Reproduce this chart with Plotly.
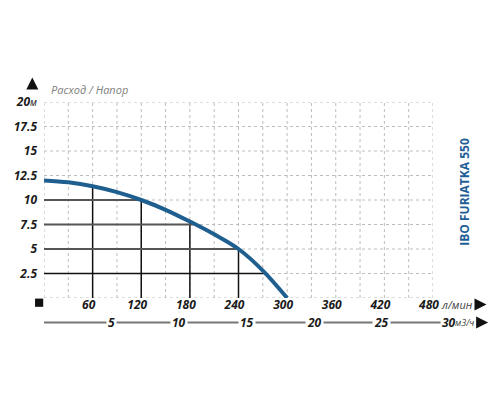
import plotly.graph_objects as go

# pump curve (flow in l/min, head in m)
flow = [0, 30, 60, 90, 120, 150, 180, 210, 240, 270, 300]
head = [12.0, 11.8, 11.4, 10.8, 10.0, 9.0, 7.8, 6.5, 5.0, 2.8, 0.0]

# reference lines drawn under the curve
v_flows = [60, 120, 180, 240]
v_heads = [11.4, 10.0, 7.8, 5.0]
h_heads = [10, 7.5, 5, 2.5]
h_flows = [120, 184, 240, 272]

x_ticks = [60, 120, 180, 240, 300, 360, 420, 480]
y_ticks = [2.5, 5, 7.5, 10, 12.5, 15, 17.5, 20]
y_labels = ["2.5", "5", "7.5", "10", "12.5", "15", "17.5", "20<span style='font-size:10px;font-weight:normal'>м</span>"]
m3h_ticks = [5, 10, 15, 20, 25, 30]

X_MAX = 480
BLUE = "#1f5f8f"
label_font = dict(family="Open Sans", size=12, color="#1a1a1a", weight="bold", style="italic")


def px(q):
    # flow in l/min -> paper x (works outside the axis range too)
    return q / X_MAX


fig = go.Figure()

shapes = []
# dotted grid
for i in range(17):
    shapes.append(dict(type="line", x0=i * 30, x1=i * 30, y0=0, y1=20, layer="below",
                       line=dict(color="#bdbdbd", width=1, dash="dot")))
for i in range(9):
    shapes.append(dict(type="line", x0=0, x1=480, y0=i * 2.5, y1=i * 2.5, layer="below",
                       line=dict(color="#bdbdbd", width=1, dash="dot")))
# solid lines to the curve
for q, h in zip(v_flows, v_heads):
    shapes.append(dict(type="line", x0=q, x1=q, y0=0, y1=h, layer="below",
                       line=dict(color="#111", width=1.5)))
for h, q in zip(h_heads, h_flows):
    shapes.append(dict(type="line", x0=0, x1=q, y0=h, y1=h, layer="below",
                       line=dict(color="#555" if h > 2.5 else "#111", width=2 if h > 2.5 else 1.5)))

# second axis in m3/h
sec_y = -0.125
shapes.append(dict(type="line", xref="paper", yref="paper", x0=0, x1=px(500), y0=sec_y, y1=sec_y,
                   line=dict(color="#777", width=2)))
for m in m3h_ticks:
    q = m * 1000 / 60
    shapes.append(dict(type="line", xref="paper", yref="paper", x0=px(q), x1=px(q), y0=sec_y + 0.035,
                       y1=sec_y + 0.05, line=dict(color="#444", width=1)))
# origin square
shapes.append(dict(type="rect", xref="paper", yref="paper", x0=-0.023, x1=-0.002, y0=-0.045, y1=-0.003,
                   fillcolor="#111", line=dict(width=0)))

fig.add_trace(go.Scatter(x=flow, y=head, mode="lines", line=dict(color=BLUE, width=4, shape="spline"),
                         hoverinfo="skip", showlegend=False))

annotations = []
for m in m3h_ticks:
    annotations.append(dict(x=px(m * 1000 / 60), y=sec_y, xref="paper", yref="paper", text=str(m),
                            xanchor="center", yanchor="middle",
                            showarrow=False, bgcolor="white", borderpad=1,
                            font=dict(family="Open Sans", size=12, color="#1a1a1a", weight="bold", style="italic")))
annotations += [
    dict(x=px(487), y=-0.033, xref="paper", yref="paper", text="л/мин", showarrow=False,
         xanchor="left", yanchor="middle",
         font=dict(family="Open Sans", size=11, color="#444", style="italic")),
    dict(x=px(546), y=-0.033, xref="paper", yref="paper", ax=-13, ay=0, text="", showarrow=True,
         arrowhead=2, arrowsize=1.2, arrowwidth=2, arrowcolor="#111"),
    dict(x=px(506), y=sec_y, xref="paper", yref="paper", text="м3/ч", showarrow=False,
         xanchor="left", yanchor="middle", borderpad=0,
         font=dict(family="Open Sans", size=9, color="#444", style="italic")),
    dict(x=px(548), y=sec_y, xref="paper", yref="paper", ax=-12, ay=0, text="", showarrow=True,
         arrowhead=2, arrowsize=1.2, arrowwidth=2, arrowcolor="#111"),
    dict(x=-0.03, y=1.125, xref="paper", yref="paper", ax=0, ay=12, text="", showarrow=True,
         arrowhead=2, arrowsize=1.2, arrowwidth=2, arrowcolor="#111"),
    dict(x=0.012, y=1.064, xref="paper", yref="paper", text="Расход / Напор", showarrow=False,
         xanchor="left", yanchor="middle",
         font=dict(family="Open Sans", size=11, color="#808080", style="italic")),
    dict(x=1.08, y=0.543, xref="paper", yref="paper", text="IBO FURIATKA 550", showarrow=False, textangle=-90,
         xanchor="center", yanchor="middle",
         font=dict(family="Open Sans", size=12, color="#1f5f96", weight="bold")),
]

# the page body adds an 8px offset, so margins are trimmed by 8
fig.update_layout(
    width=500, height=400,
    margin=dict(l=36, r=75, t=94, b=110),
    plot_bgcolor="white", paper_bgcolor="white",
    shapes=shapes, annotations=annotations,
    xaxis=dict(range=[0, X_MAX], tickvals=x_ticks, ticktext=[str(v) for v in x_ticks], showgrid=False,
               zeroline=False, showline=False, ticks="", tickfont=label_font, fixedrange=True,
               automargin=False, ticklabelstandoff=-2, ticklabelshift=-4),
    yaxis=dict(range=[0, 20], tickvals=y_ticks, ticktext=y_labels, showgrid=False, zeroline=False,
               showline=False, ticks="", ticklabelstandoff=6, tickfont=label_font, fixedrange=True,
               automargin=False),
)

fig.write_html("out.html")
